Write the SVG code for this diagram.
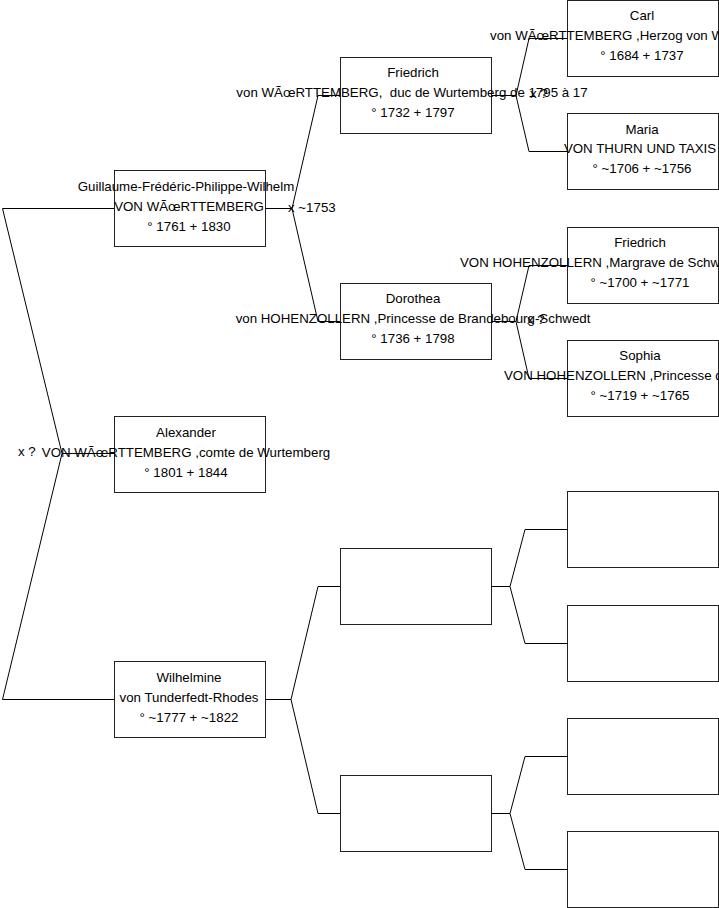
<svg xmlns="http://www.w3.org/2000/svg" width="719" height="908" viewBox="0 0 719 908">
<style>
.box{fill:#fff;stroke:#222;stroke-width:1}
text{font-family:"Liberation Sans",Arial,sans-serif;font-size:13.3px;fill:#000}
.c{text-anchor:middle}
.conn{fill:none;stroke:#000;stroke-width:1}
</style>
<rect width="719" height="908" fill="#fff"/>
<g id="node-guillaume">
<rect class="box" x="114.5" y="170.5" width="151" height="76"/>
<text class="c" x="186" y="191">Guillaume-Frédéric-Philippe-Wilhelm</text>
<text class="c" x="189" y="211">VON WÃœRTTEMBERG</text>
<text class="c" x="189" y="231">° 1761 + 1830</text>
</g>
<g id="node-alexander">
<rect class="box" x="114.5" y="416.5" width="151" height="76"/>
<text class="c" x="186" y="437">Alexander</text>
<text class="c" x="186" y="457">VON WÃœRTTEMBERG ,comte de Wurtemberg</text>
<text class="c" x="186" y="477">° 1801 + 1844</text>
</g>
<g id="node-wilhelmine">
<rect class="box" x="114.5" y="661.5" width="151" height="76"/>
<text class="c" x="189" y="682">Wilhelmine</text>
<text class="c" x="189" y="702">von Tunderfedt-Rhodes</text>
<text class="c" x="189" y="722">° ~1777 + ~1822</text>
</g>
<g id="node-friedrich">
<rect class="box" x="340.5" y="57.5" width="151" height="76"/>
<text class="c" x="413" y="77">Friedrich</text>
<text class="c" x="412" y="97">von WÃœRTTEMBERG, &#160;duc de Wurtemberg de 1795 à 17</text>
<text class="c" x="413" y="117">° 1732 + 1797</text>
</g>
<g id="node-dorothea">
<rect class="box" x="340.5" y="283.5" width="151" height="76"/>
<text class="c" x="413" y="303">Dorothea</text>
<text class="c" x="413" y="323">von HOHENZOLLERN ,Princesse de Brandebourg-Schwedt</text>
<text class="c" x="413" y="343">° 1736 + 1798</text>
</g>
<g id="node-blank1">
<rect class="box" x="340.5" y="548.5" width="151" height="76"/>
</g>
<g id="node-blank2">
<rect class="box" x="340.5" y="775.5" width="151" height="76"/>
</g>
<g id="node-carl">
<rect class="box" x="567.5" y="0.5" width="151" height="76"/>
<text class="c" x="642" y="20">Carl</text>
<text x="490" y="40">von WÃœRTTEMBERG ,Herzog von W</text>
<text class="c" x="642" y="60">° 1684 + 1737</text>
</g>
<g id="node-maria">
<rect class="box" x="567.5" y="113.5" width="151" height="76"/>
<text class="c" x="642" y="134">Maria</text>
<text class="c" x="640" y="153">VON THURN UND TAXIS</text>
<text class="c" x="642" y="173">° ~1706 + ~1756</text>
</g>
<g id="node-friedrich2">
<rect class="box" x="567.5" y="227.5" width="151" height="76"/>
<text class="c" x="640" y="247">Friedrich</text>
<text x="460" y="267">VON HOHENZOLLERN ,Margrave de Schw</text>
<text class="c" x="640" y="287">° ~1700 + ~1771</text>
</g>
<g id="node-sophia">
<rect class="box" x="567.5" y="340.5" width="151" height="76"/>
<text class="c" x="640" y="360">Sophia</text>
<text x="504" y="380">VON HOHENZOLLERN ,Princesse d</text>
<text class="c" x="640" y="400">° ~1719 + ~1765</text>
</g>
<g id="node-blank3"><rect class="box" x="567.5" y="491.5" width="151" height="76"/></g>
<g id="node-blank4"><rect class="box" x="567.5" y="605.5" width="151" height="76"/></g>
<g id="node-blank5"><rect class="box" x="567.5" y="718.5" width="151" height="76"/></g>
<g id="node-blank6"><rect class="box" x="567.5" y="831.5" width="151" height="76"/></g>
<g id="connectors">
<path class="conn" d="M114 208.5H2.5L62 453.5L2.5 699.5H114M62 453.5H114"/>
<path class="conn" d="M265 208.5H292L318 95.5H340M292 208.5L318 321.5H340"/>
<path class="conn" d="M265 699.5H291L318 586.5H340M291 699.5L318 813.5H340"/>
<path class="conn" d="M491 95.5H516L529 38.5H567M516 95.5L529 151.5H567"/>
<path class="conn" d="M491 321.5H516L529 265.5H567M516 321.5L529 378.5H567"/>
<path class="conn" d="M491 586.5H510L525 529.5H567M510 586.5L525 643.5H567"/>
<path class="conn" d="M491 813.5H510L525 756.5H567M510 813.5L525 869.5H567"/>
<text x="18" y="456">x ?</text>
<text x="288" y="212">x ~1753</text>
<text x="530" y="98">x ?</text>
<text x="527" y="324">x ?</text>
</g>
</svg>
